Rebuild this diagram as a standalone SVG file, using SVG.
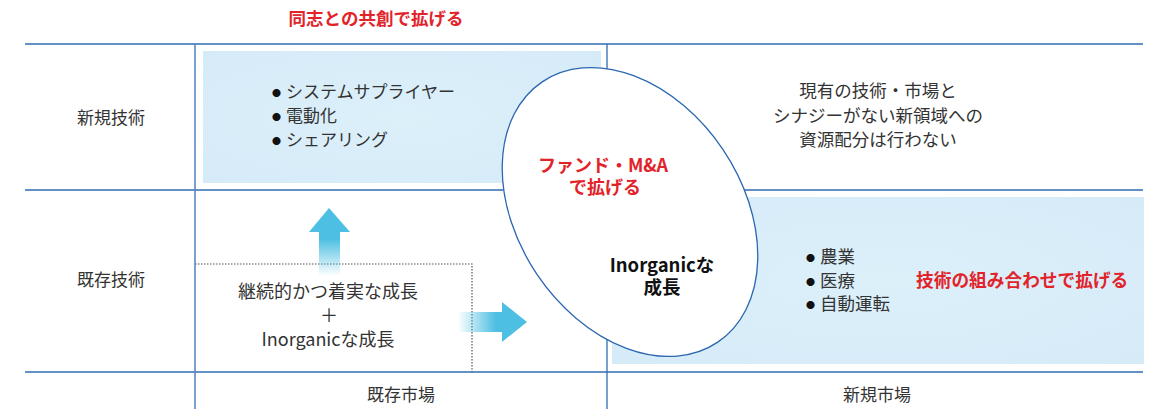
<svg xmlns="http://www.w3.org/2000/svg" width="1158" height="409" viewBox="0 0 1158 409">
<defs>
<style>
.t{font-family:"Noto Sans CJK JP","Noto Sans",sans-serif;font-size:17px;fill:#333;}
.c{text-anchor:middle;}
.bul{font-size:9px;fill:#111;}
.r{font-family:"Noto Sans CJK JP","Noto Sans",sans-serif;font-weight:bold;font-size:17.5px;fill:#e2242a;}
.b{font-family:"Noto Sans CJK JP","Noto Sans",sans-serif;font-weight:bold;font-size:18.5px;fill:#111;text-anchor:middle;}
.grid{stroke:#2f6db3;stroke-width:1.3;fill:none;}
.vgrid{stroke:#5a88c2;stroke-width:1.6;fill:none;}
.panel{fill:url(#pg);}
</style>
<radialGradient id="pg" cx="0.5" cy="0.5" r="0.7">
<stop offset="0" stop-color="#dcf0fa"/>
<stop offset="1" stop-color="#d6ebf8"/>
</radialGradient>
<linearGradient id="ug" x1="0" y1="208" x2="0" y2="276" gradientUnits="userSpaceOnUse">
<stop offset="0" stop-color="#4cbfe3"/>
<stop offset="0.45" stop-color="#4cbfe3"/>
<stop offset="1" stop-color="#4cbfe3" stop-opacity="0"/>
</linearGradient>
<linearGradient id="rg" x1="458" y1="0" x2="527" y2="0" gradientUnits="userSpaceOnUse">
<stop offset="0" stop-color="#4cbfe3" stop-opacity="0"/>
<stop offset="0.55" stop-color="#4cbfe3"/>
<stop offset="1" stop-color="#4cbfe3"/>
</linearGradient>
</defs>
<rect width="1158" height="409" fill="#fff"/>

<g id="panels">
<rect class="panel" x="203" y="51" width="398" height="132"/>
<rect class="panel" x="612" y="197" width="532" height="167"/>
</g>

<g id="grid">
<line class="grid" x1="25" y1="44" x2="1143" y2="44"/>
<line class="grid" x1="25" y1="190" x2="1143" y2="190"/>
<line class="grid" x1="25" y1="372" x2="1143" y2="372"/>
<line class="vgrid" x1="195" y1="44" x2="195" y2="409"/>
<line class="grid" x1="607" y1="44" x2="607" y2="409"/>
</g>

<g id="existing-box">
<path d="M195 264 H472 V372" fill="none" stroke="#555" stroke-width="1.2" stroke-dasharray="1.5 1.5"/>
</g>

<g id="connectors">
<polygon points="329,208 350,232 340,232 340,276 319,276 319,232 309,232" fill="url(#ug)"/>
<polygon points="458,312 502,312 502,302 527,322 502,342 502,332 458,332" fill="url(#rg)"/>
</g>

<g id="inorganic-ellipse">
<ellipse cx="630" cy="212" rx="112" ry="157" transform="rotate(-34 630 212)" fill="#fff" stroke="#2b66b0" stroke-width="1.3"/>
<text class="r c" x="603" y="172" style="font-size:18px">ファンド・M&amp;A</text>
<text class="r c" x="605" y="194" style="font-size:18px">で拡げる</text>
<text class="b" x="662" y="272">Inorganicな</text>
<text class="b" x="662" y="294">成長</text>
</g>

<g id="heading">
<text class="r c" x="376" y="25">同志との共創で拡げる</text>
</g>

<g id="row-labels">
<text class="t c" x="111" y="124">新規技術</text>
<text class="t c" x="111" y="286">既存技術</text>
<text class="t c" x="401" y="401">既存市場</text>
<text class="t c" x="877" y="401">新規市場</text>
</g>

<g id="new-tech-list">
<text class="t" x="272" y="96"><tspan class="bul">●</tspan><tspan x="286" y="98">システムサプライヤー</tspan></text>
<text class="t" x="272" y="120"><tspan class="bul">●</tspan><tspan x="286" y="122">電動化</tspan></text>
<text class="t" x="272" y="144"><tspan class="bul">●</tspan><tspan x="286" y="146">シェアリング</tspan></text>
</g>

<g id="no-allocation">
<text class="t c" x="878" y="97" style="font-size:17.5px">現有の技術・市場と</text>
<text class="t c" x="878" y="122" style="font-size:17.5px">シナジーがない新領域への</text>
<text class="t c" x="878" y="146" style="font-size:17.5px">資源配分は行わない</text>
</g>

<g id="existing-growth">
<text class="t c" x="328" y="298" style="font-size:18px">継続的かつ着実な成長</text>
<text class="t c" x="329" y="322" style="font-size:18px">＋</text>
<text class="t c" x="328" y="346" style="font-size:18px">Inorganicな成長</text>
</g>

<g id="combination-list">
<text class="t" x="806" y="261"><tspan class="bul">●</tspan><tspan x="820" y="263" style="font-size:17.5px">農業</tspan></text>
<text class="t" x="806" y="285"><tspan class="bul">●</tspan><tspan x="820" y="287" style="font-size:17.5px">医療</tspan></text>
<text class="t" x="806" y="308"><tspan class="bul">●</tspan><tspan x="820" y="310" style="font-size:17.5px">自動運転</tspan></text>
<text class="r" x="916" y="287" style="font-size:17.7px">技術の組み合わせで拡げる</text>
</g>
</svg>
